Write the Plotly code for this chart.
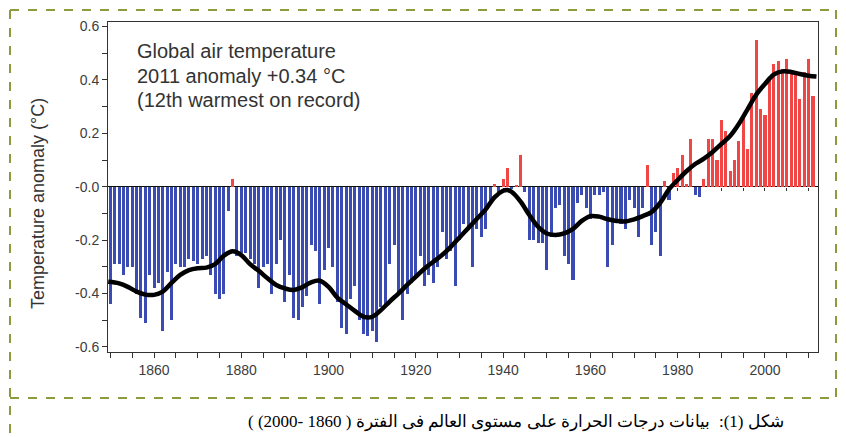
import plotly.graph_objects as go

# ---------------- data ----------------
years = list(range(1850, 2012))
anomaly = [
    -0.44, -0.29, -0.29, -0.33, -0.30, -0.30, -0.40, -0.49, -0.51, -0.33,   # 1850-1859
    -0.38, -0.36, -0.54, -0.32, -0.50, -0.29, -0.30, -0.30, -0.27, -0.28,   # 1860-1869
    -0.29, -0.27, -0.26, -0.33, -0.40, -0.42, -0.40, -0.09, 0.03, -0.26,    # 1870-1879
    -0.25, -0.25, -0.27, -0.29, -0.38, -0.30, -0.29, -0.40, -0.29, -0.20,   # 1880-1889
    -0.43, -0.33, -0.49, -0.50, -0.45, -0.41, -0.22, -0.24, -0.44, -0.31,   # 1890-1899
    -0.23, -0.30, -0.43, -0.53, -0.55, -0.42, -0.37, -0.50, -0.55, -0.56,   # 1900-1909
    -0.54, -0.58, -0.45, -0.44, -0.29, -0.22, -0.40, -0.50, -0.40, -0.36,   # 1910-1919
    -0.34, -0.26, -0.37, -0.33, -0.36, -0.30, -0.17, -0.27, -0.24, -0.37,   # 1920-1929
    -0.20, -0.14, -0.15, -0.30, -0.16, -0.19, -0.16, -0.05, 0.01, -0.02,    # 1930-1939
    0.03, 0.07, -0.01, 0.005, 0.12, -0.02, -0.20, -0.20, -0.21, -0.21,      # 1940-1949
    -0.31, -0.19, -0.08, -0.07, -0.26, -0.29, -0.35, -0.06, -0.03, -0.08,   # 1950-1959
    -0.12, -0.03, -0.03, -0.02, -0.30, -0.22, -0.13, -0.14, -0.16, -0.05,   # 1960-1969
    -0.08, -0.19, -0.08, 0.08, -0.22, -0.17, -0.26, 0.02, -0.05, 0.05,      # 1970-1979
    0.07, 0.12, 0.01, 0.18, -0.03, -0.04, 0.03, 0.18, 0.18, 0.10,           # 1980-1989
    0.25, 0.21, 0.06, 0.10, 0.17, 0.26, 0.14, 0.35, 0.55, 0.29,             # 1990-1999
    0.27, 0.40, 0.46, 0.47, 0.44, 0.48, 0.43, 0.42, 0.33, 0.43,             # 2000-2009
    0.48, 0.34,                                                             # 2010-2011
]

smooth_years = [1849.5, 1852, 1854, 1856, 1858, 1860, 1862, 1864, 1866, 1868,
                1870, 1872, 1874, 1876, 1878, 1880, 1882, 1884, 1886, 1888,
                1890, 1892, 1894, 1896, 1898, 1900, 1902, 1904, 1906, 1908,
                1910, 1912, 1914, 1916, 1918, 1920, 1922, 1924, 1926, 1928,
                1930, 1932, 1934, 1936, 1938, 1940, 1941, 1942, 1944, 1946,
                1948, 1950, 1952, 1954, 1956, 1958, 1960, 1962, 1964, 1966,
                1968, 1970, 1972, 1974, 1976, 1978, 1980, 1982, 1984, 1986,
                1988, 1990, 1992, 1994, 1996, 1998, 2000, 2002, 2004, 2006,
                2008, 2010, 2011.8]
smooth_vals = [-0.356, -0.362, -0.375, -0.393, -0.404, -0.405, -0.393, -0.36, -0.33, -0.312,
               -0.305, -0.303, -0.29, -0.258, -0.242, -0.256, -0.29, -0.315, -0.343, -0.368,
               -0.381, -0.387, -0.376, -0.358, -0.352, -0.375, -0.415, -0.44, -0.465, -0.487,
               -0.487, -0.462, -0.43, -0.40, -0.368, -0.337, -0.306, -0.281, -0.256, -0.225,
               -0.19, -0.155, -0.12, -0.085, -0.04, -0.015, -0.012, -0.02, -0.056, -0.106,
               -0.15, -0.175, -0.181, -0.175, -0.158, -0.128, -0.11, -0.112, -0.122, -0.128,
               -0.13, -0.122, -0.11, -0.095, -0.06, -0.01, 0.025, 0.058, 0.085, 0.105,
               0.13, 0.16, 0.19, 0.235, 0.29, 0.345, 0.385, 0.42, 0.432, 0.43,
               0.422, 0.416, 0.413]

y_tickvals = [-0.6, -0.4, -0.2, 0.0, 0.2, 0.4, 0.6]
y_ticktext = ["-0.6", "-0.4", "-0.2", "-0.0", "0.2", "0.4", "0.6"]
x_tickvals = [1860, 1880, 1900, 1920, 1940, 1960, 1980, 2000]
x_ticktext = [str(v) for v in x_tickvals]

note_lines = ["Global air temperature", "2011 anomaly +0.34 \u00b0C", "(12th warmest on record)"]
y_title = "Temperature anomaly (\u00b0C)"
caption = "شكل (1):  بيانات درجات الحرارة على مستوى العالم فى الفترة ( 1860 -2000) )"

# ---------------- layout geometry ----------------
# The page body adds an 8px offset, so positions are given in screen pixels and shifted here.
OFF = 8
W_FIG, H_FIG = 846, 437
PLOT_L, PLOT_R, PLOT_T, PLOT_B = 108, 818, 22, 352          # screen pixels of the plot box
L = PLOT_L - OFF
R = W_FIG - (PLOT_R - OFF)
T = PLOT_T - OFF
B = H_FIG - (PLOT_B - OFF)
PW = PLOT_R - PLOT_L
PH = PLOT_B - PLOT_T
X_RANGE = [1849.45, 2012.15]
Y_RANGE = [-0.619, 0.617]


def px_x(px):
    return (px - PLOT_L) / PW


def px_y(py):
    return (PLOT_B - py) / PH


BLUE = "#3a4cb4"
RED = "#f04646"
bar_colors = [RED if v > 0 else BLUE for v in anomaly]

fig = go.Figure()
# empty trace so the base subplot (frame, bottom and left axes) is drawn
fig.add_trace(go.Scatter(x=[], y=[], xaxis="x", yaxis="y", showlegend=False, hoverinfo="skip"))
fig.add_trace(go.Bar(x=years, y=anomaly, marker=dict(color=bar_colors, line=dict(width=0)),
                     width=0.7, xaxis="x2", yaxis="y", showlegend=False))
fig.add_trace(go.Scatter(x=smooth_years, y=smooth_vals, mode="lines",
                         line=dict(color="black", width=4.5, shape="spline", smoothing=1.0),
                         xaxis="x2", yaxis="y", showlegend=False))

zero_pos = (0 - Y_RANGE[0]) / (Y_RANGE[1] - Y_RANGE[0])
axis_font = dict(family="Liberation Sans, Arial, sans-serif", size=14, color="#3c3c3c")

fig.update_layout(
    width=W_FIG, height=H_FIG,
    margin=dict(l=L, r=R, t=T, b=B, pad=0, autoexpand=False),
    paper_bgcolor="white", plot_bgcolor="white",
    bargap=0,
    xaxis=dict(range=X_RANGE, tickmode="array", tickvals=x_tickvals, ticktext=x_ticktext,
               ticks="outside", ticklen=5, tickwidth=1, tickcolor="#333",
               minor=dict(dtick=5, tick0=1850, ticks="outside", ticklen=5, tickwidth=1, tickcolor="#333"),
               showline=True, linecolor="#333", linewidth=1, mirror=True,
               showgrid=False, zeroline=False, tickfont=axis_font, automargin=False),
    xaxis2=dict(range=X_RANGE, matches="x", overlaying="x", anchor="free", position=zero_pos,
                tickmode="linear", tick0=1850, dtick=5, ticks="outside", ticklen=3,
                tickcolor="#333", tickwidth=1, showticklabels=False, showline=False,
                showgrid=False, zeroline=False, layer="below traces"),
    yaxis=dict(range=Y_RANGE, tickmode="array", tickvals=y_tickvals, ticktext=y_ticktext,
               ticks="outside", ticklen=5, tickwidth=1, tickcolor="#333",
               minor=dict(dtick=0.1, tick0=0, ticks="outside", ticklen=5, tickwidth=1, tickcolor="#333"),
               showline=True, linecolor="#333", linewidth=1, mirror=True,
               showgrid=False, zeroline=True, zerolinecolor="#111", zerolinewidth=1,
               tickfont=axis_font, automargin=False),
)

note_font = dict(family="Liberation Sans, Arial, sans-serif", size=20, color="#333")
for i, line in enumerate(note_lines):
    fig.add_annotation(text=line, xref="paper", yref="paper", x=px_x(135), y=px_y(51 + 24.5 * i),
                       xanchor="left", yanchor="middle", showarrow=False, font=note_font)

fig.add_annotation(text=y_title, xref="paper", yref="paper", x=px_x(38), y=px_y(204),
                   textangle=-90, xanchor="center", yanchor="middle", showarrow=False,
                   font=dict(family="Liberation Sans, Arial, sans-serif", size=18, color="#333"))

fig.add_annotation(text="\u202B" + caption + "\u202C", xref="paper", yref="paper",
                   x=px_x(786), y=px_y(422), xanchor="right", yanchor="middle", showarrow=False,
                   font=dict(family="Liberation Serif, Times New Roman, DejaVu Serif, serif",
                             size=17, color="black"))

# dashed green frame
green = dict(color="#8a9c3c", width=2, dash="dash")
fig.add_shape(type="line", xref="paper", yref="paper", x0=px_x(10), x1=px_x(836), y0=px_y(10), y1=px_y(10), line=green)
fig.add_shape(type="line", xref="paper", yref="paper", x0=px_x(10), x1=px_x(10), y0=px_y(10), y1=px_y(440), line=green)
fig.add_shape(type="line", xref="paper", yref="paper", x0=px_x(836), x1=px_x(836), y0=px_y(10), y1=px_y(398), line=green)
fig.add_shape(type="line", xref="paper", yref="paper", x0=px_x(10), x1=px_x(850), y0=px_y(398), y1=px_y(398), line=green)

fig.write_html("out.html")
